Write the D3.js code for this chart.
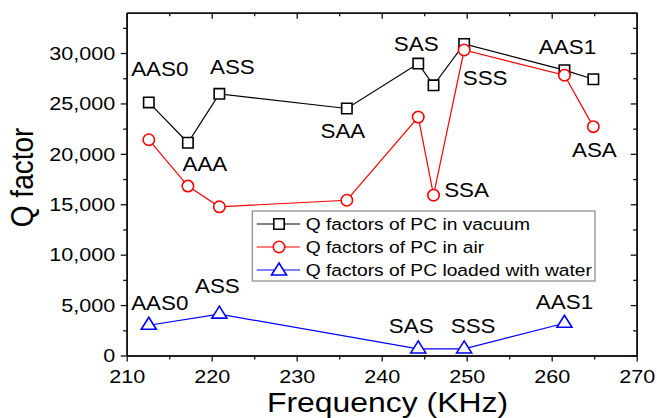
<!DOCTYPE html>
<head>
<title>Q factor vs Frequency</title>
  <style>
  body { margin: 0; background: #fff; }
  text { font-family: "Liberation Sans", Arial, sans-serif; fill: #000; }
  .line { fill: none; stroke-width: 1.2px; }
  .axis path { stroke: #111; stroke-width: 1.6px; }
  .axis line { stroke: #111; stroke-width: 1.3px; }
  </style>
</head>

<body>

  <script src="https://cdn.jsdelivr.net/npm/d3@7/dist/d3.min.js"></script>

  <script>

    // values
    var freqVacuum = [212.6, 217.2, 220.9, 235.9, 244.3, 246.1, 249.7, 261.5, 264.9];
    var qVacuum    = [25100, 21100, 25950, 24500, 28950, 26800, 30900, 28300, 27400];
    var namesVacuum = ["AAS0", "AAA", "ASS", "SAA", "SAS", "", "", "AAS1", ""];

    var freqAir = [212.6, 217.2, 220.9, 235.9, 244.3, 246.1, 249.7, 261.5, 264.9];
    var qAir    = [21400, 16800, 14750, 15400, 23650, 15900, 30300, 27800, 22700];
    var namesAir = ["", "", "", "", "", "SSA", "SSS", "", "ASA"];

    var freqWater = [212.6, 220.9, 244.3, 249.7, 261.5];
    var qWater    = [3000, 4100, 650, 650, 3200];
    var namesWater = ["AAS0", "ASS", "SAS", "SSS", "AAS1"];

    var seriesNames = ["Q factors of PC in vacuum", "Q factors of PC in air", "Q factors of PC loaded with water"];

    var xTicks = [210, 220, 230, 240, 250, 260, 270];
    var xMinor = [215, 225, 235, 245, 255, 265];
    var yTicks = [0, 5000, 10000, 15000, 20000, 25000, 30000];
    var yMinor = [2500, 7500, 12500, 17500, 22500, 27500, 32500];

    // label placement (pixel offsets from the point)
    var offVacuum = [[11,-26], [17,28], [13,-20], [-4,30], [-2,-13], null, null, [3,-16], null];
    var offAir = [null, null, null, null, null, [33,2], [21,35], null, [1,30]];
    var offWater = [[11,-15], [-2,-21], [-7,-16], [9,-16], [0,-14]];

    // dimensions and margins
    var margin = {top: 12.7, right: 20.3, bottom: 62.5, left: 126.7},
        width = 657 - margin.left - margin.right,
        height = 418 - margin.top - margin.bottom;

    var x = d3.scaleLinear().domain([210, 270]).range([0, width]);
    var y = d3.scaleLinear().domain([0, 34000]).range([height, 0]);

    var svg = d3.select("body").append("svg")
                .attr("width", 657)
                .attr("height", 418)
               .append("g")
                .attr("transform", "translate(" + margin.left + "," + margin.top + ")");

    // minor ticks first
    svg.append("g").attr("class", "axis")
       .call(d3.axisLeft(y).tickValues(yMinor).tickSize(3.5).tickSizeOuter(0).tickFormat(""));
    svg.append("g").attr("class", "axis")
       .attr("transform", "translate(" + width + ",0)")
       .call(d3.axisRight(y).tickValues(yMinor).tickSize(-3.5).tickSizeOuter(0).tickFormat(""));
    svg.append("g").attr("class", "axis")
       .attr("transform", "translate(0," + height + ")")
       .call(d3.axisBottom(x).tickValues(xMinor).tickSize(4).tickSizeOuter(0).tickFormat(""));
    svg.append("g").attr("class", "axis")
       .call(d3.axisTop(x).tickValues(xMinor).tickSize(-3.5).tickSizeOuter(0).tickFormat(""));

    // major ticks
    var yAxis = svg.append("g").attr("class", "axis")
       .call(d3.axisLeft(y).tickValues(yTicks).tickSize(6).tickSizeOuter(0).tickFormat(d3.format(",")));
    yAxis.selectAll("text")
       .attr("x", 0).attr("dy", "0.35em")
       .attr("transform", "translate(-11.5,0) scale(1.2,1)")
       .style("font-size", "18px");

    svg.append("g").attr("class", "axis")
       .attr("transform", "translate(" + width + ",0)")
       .call(d3.axisRight(y).tickValues(yTicks).tickSize(-6).tickSizeOuter(0).tickFormat(""));

    var xAxis = svg.append("g").attr("class", "axis")
       .attr("transform", "translate(0," + height + ")")
       .call(d3.axisBottom(x).tickValues(xTicks).tickSize(6).tickSizeOuter(0));
    xAxis.selectAll("text")
       .attr("y", 27.8).attr("dy", 0)
       .attr("transform", "scale(1.2,1)")
       .style("font-size", "18px");

    svg.append("g").attr("class", "axis")
       .call(d3.axisTop(x).tickValues(xTicks).tickSize(-6).tickSizeOuter(0).tickFormat(""));

    svg.selectAll(".axis text").attr("fill", "#000");

    // markers
    function marker(type) {
      if (type == "square") return "M-5.2,-5.2H5.2V5.2H-5.2Z";
      if (type == "circle") return "M5.7,0A5.7,5.7 0 1,1 -5.7,0A5.7,5.7 0 1,1 5.7,0Z";
      return "M0,-8L7.5,4L-7.5,4Z";
    }

    function drawSeries(fx, qy, color, type) {
      var pts = fx.map(function(f, i) { return [x(f), y(qy[i])]; });
      svg.append("path")
         .attr("class", "line")
         .attr("d", d3.line()(pts))
         .attr("stroke", color);
      svg.selectAll(null)
         .data(pts)
         .enter().append("path")
         .attr("d", marker(type))
         .attr("transform", function(d) { return "translate(" + d[0] + "," + d[1] + ")"; })
         .attr("fill", "#fff")
         .attr("stroke", color)
         .attr("stroke-width", 1.6);
    }

    function drawLabels(fx, qy, names, offs) {
      names.forEach(function(n, i) {
        if (!n) return;
        svg.append("text")
           .attr("text-anchor", "middle")
           .attr("transform", "translate(" + (x(fx[i]) + offs[i][0]) + "," + (y(qy[i]) + offs[i][1]) + ") scale(1.12,1)")
           .style("font-size", "20px")
           .text(n);
      });
    }

    drawSeries(freqVacuum, qVacuum, "#000", "square");
    drawSeries(freqAir, qAir, "#ff0000", "circle");
    drawSeries(freqWater, qWater, "#0000ff", "triangle");

    drawLabels(freqVacuum, qVacuum, namesVacuum, offVacuum);
    drawLabels(freqAir, qAir, namesAir, offAir);
    drawLabels(freqWater, qWater, namesWater, offWater);

    // legend
    var colors = ["#000", "#ff0000", "#0000ff"],
        types = ["square", "circle", "triangle"];
    var legend = svg.append("g")
       .attr("transform", "translate(" + (252.3 - margin.left) + "," + (211 - margin.top) + ")");
    legend.append("rect")
       .attr("width", 342.7).attr("height", 70)
       .attr("fill", "#fff").attr("stroke", "#888").attr("stroke-width", 1.2);
    seriesNames.forEach(function(s, i) {
      var ly = 13 + i * 23;
      legend.append("line")
         .attr("x1", 4.4).attr("x2", 47.7).attr("y1", ly).attr("y2", ly)
         .attr("stroke", colors[i]).attr("stroke-width", 1.2);
      legend.append("path")
         .attr("d", marker(types[i]))
         .attr("transform", "translate(26.7," + (types[i] == "triangle" ? ly + 1 : ly) + ")")
         .attr("fill", "#fff").attr("stroke", colors[i]).attr("stroke-width", 1.6);
      legend.append("text")
         .attr("dy", "0.35em")
         .attr("transform", "translate(53.4," + ly + ") scale(1.18,1)")
         .style("font-size", "16.3px")
         .text(s);
    });

    // axis titles
    svg.append("text")
       .attr("text-anchor", "middle")
       .attr("transform", "translate(" + (387.5 - margin.left) + "," + (411.7 - margin.top) + ") scale(1.14,1)")
       .style("font-size", "28px")
       .text("Frequency (KHz)");

    svg.append("text")
       .attr("text-anchor", "middle")
       .attr("transform", "translate(" + (33.3 - margin.left) + "," + (177.4 - margin.top) + ") scale(1.14,1) rotate(-90)")
       .style("font-size", "28px")
       .text("Q factor");

  </script>

</body>
